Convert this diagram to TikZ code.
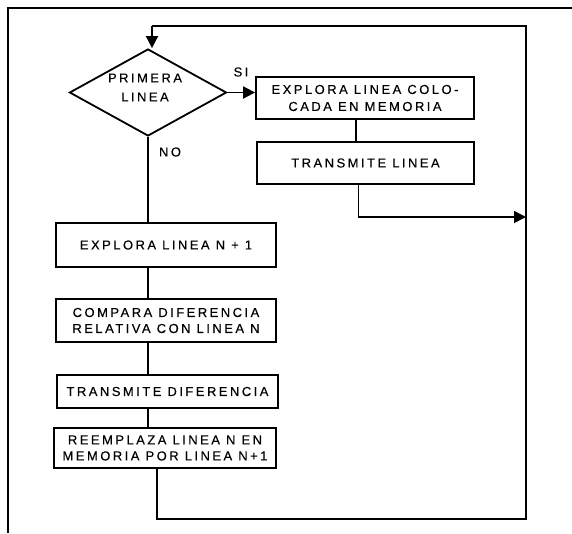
\documentclass[tikz,border=0pt]{standalone}
\usepackage{fontspec}
\setmainfont{Liberation Sans}
\newfontfamily\lettering[LetterSpace=19,FakeBold=0.3]{Liberation Sans}
\usetikzlibrary{shapes.geometric,arrows.meta}

\tikzset{
  stroke/.style={line width=1.8pt, line join=miter},
  txt/.style={font=\lettering\fontsize{13}{16}\selectfont, align=center, inner sep=0pt},
  stepbox/.style={stroke, draw, rectangle, txt},
  decision/.style={stroke, draw, diamond, inner sep=0pt, txt},
  flow/.style={stroke, -{Triangle[length=12pt,width=12pt]}},
  tag/.style={txt}
}

\begin{document}
\begin{tikzpicture}[x=1pt,y=-1pt]
  \useasboundingbox (0,0) rectangle (572,533);

  % page frame (left and top edges)
  \draw[stroke] (572,8) -- (8,8) -- (8,533);

  % decision
  \node[decision, minimum width=157pt, minimum height=87pt] (d) at (148,92.5) {};
  \node[tag, font=\lettering\fontsize{13}{19}\selectfont] (dtxt) at (145,87.5) {PRIMERA\\LINEA};

  % right branch
  \node[stepbox, minimum width=218pt, minimum height=42pt, font=\lettering\fontsize{13}{17}\selectfont] (b1) at (365,98) {EXPLORA LINEA COLO-\\CADA EN MEMORIA};
  \node[stepbox, minimum width=217pt, minimum height=42pt] (b2) at (365.5,163) {TRANSMITE LINEA};

  % left branch
  \node[stepbox, minimum width=220pt, minimum height=44pt] (b3) at (166,245) {EXPLORA LINEA N + 1};
  \node[stepbox, minimum width=220pt, minimum height=43pt] (b4) at (166,320.5) {COMPARA DIFERENCIA\\RELATIVA CON LINEA N};
  \node[stepbox, minimum width=221pt, minimum height=33pt] (b5) at (167.5,391.5) {TRANSMITE DIFERENCIA};
  \node[stepbox, minimum width=222pt, minimum height=40pt] (b6) at (165,448) {REEMPLAZA LINEA N EN\\MEMORIA POR LINEA N+1};

  % labels
  \node[tag] (si) at (241,72) {SI};
  \node[tag] (no) at (170,152) {NO};

  % loop corners
  \coordinate (tl) at (152,26);
  \coordinate (tr) at (526,26);
  \coordinate (mr) at (526,217);
  \coordinate (br) at (526,519);

  % connectors
  \draw[flow] (d.east) -- (d.east -| b1.west);
  \draw[stroke] ([xshift=-9pt]b1.south) -- ([xshift=-9pt]b1.south |- b2.north);
  \draw[flow] ([xshift=-7pt]b2.south) |- (mr);

  \draw[stroke] (d.south) -- (d.south |- b3.north);
  \draw[stroke] (d.south |- b3.south) -- (d.south |- b4.north);
  \draw[stroke] (d.south |- b4.south) -- (d.south |- b5.north);
  \draw[stroke] (d.south |- b5.south) -- (d.south |- b6.north);

  \draw[stroke] ([xshift=-8pt]b6.south) |- (br) -- (tr) -- (tl);
  \draw[flow] (tl) -- (tl |- d.north);
\end{tikzpicture}
\end{document}
